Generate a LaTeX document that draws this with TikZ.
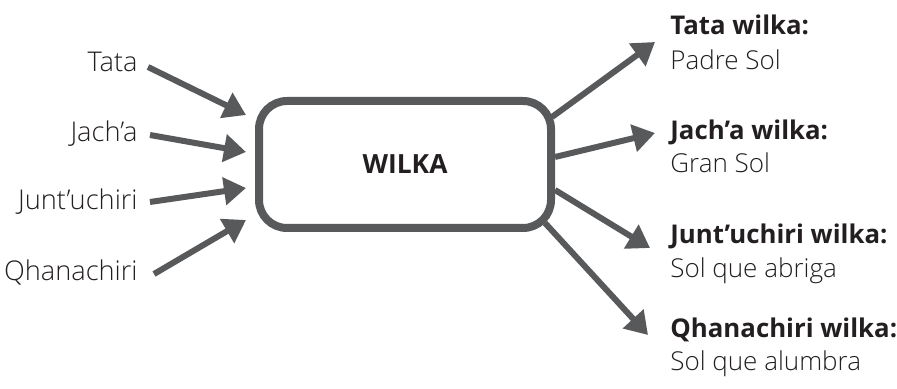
\documentclass[tikz,border=0pt]{standalone}
\usepackage{fontspec}
\setmainfont{Open Sans}[UprightFont=* Light, BoldFont=* Bold]
\usetikzlibrary{arrows.meta,calc}
\definecolor{arr}{HTML}{58595B}
\definecolor{ink}{HTML}{231F20}
\begin{document}
\begin{tikzpicture}[x=0.5pt,y=-0.5pt,
  font=\fontsize{13}{15}\selectfont, text=ink,
  conn/.style={draw=arr, line width=3pt, -{Triangle[length=11pt,width=13.5pt]}},
  lbl/.style={inner sep=0pt, anchor=base east, font=\fontsize{13.6}{15}\selectfont},
  rtxt/.style={inner sep=0pt, anchor=base west},
  ttl/.style={rtxt, font=\fontsize{12.9}{15}\selectfont\bfseries},
  hub/.style={draw=arr, line width=4pt, rounded corners=14pt, minimum width=146pt, minimum height=63.5pt, inner sep=0pt, font=\fontsize{13.2}{15}\selectfont\bfseries}]
\useasboundingbox (0,0) rectangle (897,389);
\node[hub] (box) at (405,164.5) {WILKA};
% left labels
\node[lbl] (l1) at (138,72) {Tata};
\node[lbl] (l2) at (138,142) {Jach’a};
\node[lbl] (l3) at (138,210) {Junt’uchiri};
\node[lbl] (l4) at (138,280) {Qhanachiri};
% right labels
\node[ttl] (t1) at (670,35) {Tata wilka:};
\node[rtxt] (d1) at (670,70) {Padre Sol};
\node[ttl] (t2) at (670,140) {Jach’a wilka:};
\node[rtxt] (d2) at (670,173) {Gran Sol};
\node[ttl] (t3) at (670,243) {Junt’uchiri wilka:};
\node[rtxt] (d3) at (670,278) {Sol que abriga};
\node[ttl] (t4) at (670,337) {Qhanachiri wilka:};
\node[rtxt] (d4) at (670,370) {Sol que alumbra};
% connector ends
\coordinate (a1) at (246,115);
\coordinate (a2) at (246,152);
\coordinate (a3) at (246,188);
\coordinate (a4) at (246,220);
\coordinate (b1) at (552,117);
\coordinate (b2) at (555,157);
\coordinate (b3) at (555,190);
\coordinate (b4) at (545,223);
% left connectors
\draw[conn] ($(l1.base east)+(10,-5)$) -- (a1);
\draw[conn] ($(l2.base east)+(12,-7)$) -- (a2);
\draw[conn] ($(l3.base east)+(12,-8)$) -- (a3);
\draw[conn] ($(l4.base east)+(16,-6)$) -- (a4);
% right connectors
\draw[conn] (b1) -- ($(t1.base west)+(-15,7)$);
\draw[conn] (b2) -- ($(t2.base west)+(-15,-7)$);
\draw[conn] (b3) -- ($(t3.base west)+(-20,5)$);
\draw[conn] (b4) -- ($(t4.base west)+(-22,-2)$);
\end{tikzpicture}
\end{document}
